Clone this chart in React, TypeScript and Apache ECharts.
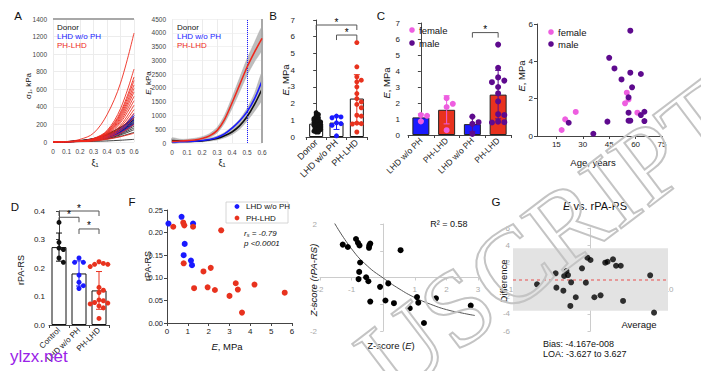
import React, { useEffect, useRef } from 'react';
import * as echarts from 'echarts';

// ---------- Panel A (stress / modulus vs strain) ----------
const strainX = [0, 0.1, 0.2, 0.3, 0.4, 0.5, 0.6];
const donorCurves = [
  [0, 2, 8, 20, 45, 90, 160],
  [0, 2, 8, 22, 50, 100, 180],
  [0, 3, 10, 25, 55, 110, 200],
  [0, 3, 10, 25, 60, 120, 220],
  [0, 3, 12, 28, 65, 130, 240],
  [0, 3, 12, 30, 70, 140, 260],
  [0, 4, 14, 32, 75, 150, 280],
  [0, 4, 14, 35, 80, 160, 300],
  [0, 3, 10, 25, 55, 115, 210],
  [0, 2, 8, 18, 40, 80, 140],
  [0, 2, 6, 15, 35, 65, 110],
  [0, 4, 15, 38, 85, 165, 250],
  [0, 5, 18, 40, 90, 170, 270],
  [0, 1, 3, 7, 12, 20, 30],
  [0, 3, 11, 27, 62, 125, 230],
  [0, 4, 13, 30, 68, 135, 250],
];
const lhdCurves = [
  [0, 3, 12, 30, 70, 150, 320],
  [0, 3, 10, 28, 65, 140, 300],
  [0, 2, 9, 25, 60, 130, 280],
  [0, 3, 11, 28, 65, 125, 250],
  [0, 2, 8, 22, 52, 110, 220],
  [0, 2, 8, 20, 48, 100, 200],
];
const phCurves = [
  [0, 5, 30, 100, 310, 670, 1240],
  [0, 3, 12, 40, 130, 380, 830],
  [0, 3, 12, 38, 120, 340, 740],
  [0, 3, 11, 35, 115, 320, 700],
  [0, 3, 10, 33, 105, 300, 650],
  [0, 3, 10, 30, 100, 280, 610],
  [0, 3, 10, 30, 95, 260, 570],
  [0, 2, 9, 28, 88, 240, 520],
  [0, 2, 9, 26, 80, 220, 470],
  [0, 2, 8, 24, 72, 190, 420],
  [0, 2, 8, 22, 65, 170, 370],
  [0, 2, 7, 20, 58, 150, 330],
  [0, 2, 6, 18, 50, 130, 280],
  [0, 2, 6, 15, 40, 100, 200],
  [0, 2, 5, 12, 30, 60, 100],
];
const modX = [0, 0.05, 0.1, 0.15, 0.2, 0.25, 0.3, 0.35, 0.4, 0.45, 0.5, 0.55, 0.6];
const modRedMean = [60, 70, 85, 110, 160, 260, 450, 850, 1450, 2100, 2750, 3300, 3800];
const modRedLow = [0, 20, 40, 60, 100, 190, 360, 720, 1250, 1850, 2450, 2950, 3400];
const modRedHigh = [150, 130, 140, 170, 230, 340, 560, 1000, 1650, 2350, 3050, 3650, 4200];
const modBlueMean = [40, 45, 55, 65, 90, 130, 200, 330, 540, 800, 1130, 1600, 2250];
const modBlackMean = [90, 70, 60, 65, 75, 110, 160, 260, 400, 620, 950, 1400, 1950];
const modGrayLow = [0, 10, 20, 30, 45, 70, 110, 190, 310, 500, 800, 1150, 1600];
const modGrayHigh = [190, 140, 110, 110, 130, 170, 250, 380, 580, 850, 1250, 1800, 2550];

// ---------- Panel B / D / F ----------
const bGroups = ['Donor', 'LHD w/o PH', 'PH-LHD'];
const donorE = [1.45, 1.35, 1.3, 1.2, 1.15, 1.1, 1.05, 1.0, 1.0, 0.95, 0.9, 0.9, 0.85, 0.8, 0.8, 0.75, 0.75, 0.7, 0.7, 0.65, 0.6, 0.6, 0.55, 0.5, 0.5, 0.45, 0.4, 0.35, 0.3, 0.3];
const lhdE = [0.07, 0.7, 1.25, 0.85, 0.8, 1.15, 1.2];
const lhdRpa = [0.22, 0.235, 0.22, 0.175, 0.15, 0.138, 0.128];
const phE = [0.3, 0.78, 0.83, 1.25, 2.6, 0.8, 1.75, 2.1, 1.3, 1.95, 2.3, 3.0, 3.3, 3.4, 3.6, 4.2, 5.65];
const phRpa = [0.213, 0.222, 0.216, 0.213, 0.205, 0.132, 0.114, 0.122, 0.077, 0.079, 0.073, 0.06, 0.088, 0.074, 0.023, 0.085, 0.067];
const dGroups = ['Control', 'LHD w/o PH', 'PH-LHD'];
const controlRpa = [0.36, 0.29, 0.27, 0.265, 0.235, 0.22];

// ---------- Panel C ----------
const cGroups = ['LHD w/o PH', 'PH-LHD', 'LHD w/o PH', 'PH-LHD'];
const femaleLhdE = [1.25, 1.2, 0.85];
const femalePhE = [2.3, 1.95, 1.75, 0.3];
const maleLhdE = [1.15, 0.8, 0.7, 0.07];
const malePhE = [5.65, 4.2, 3.6, 3.4, 3.3, 3.0, 2.6, 2.1, 1.3, 1.25, 0.83, 0.8, 0.78];

const femaleAge = [18, 20, 26, 55, 54, 56, 61];
const femaleAgeE = [0.32, 0.89, 1.29, 2.32, 1.75, 1.96, 1.25];
const maleAge = [22, 36, 44, 45, 48, 52, 57, 57, 58, 56, 56, 56, 57, 63, 63, 65, 65];
const maleAgeE = [0.71, 0.12, 0.77, 4.19, 3.62, 3.03, 5.64, 3.39, 2.61, 2.07, 1.25, 0.82, 0.82, 3.32, 1.12, 1.3, 0.8];

// ---------- Z-score panel ----------
const zE = [-1.28, -1.12, -0.86, -0.8, -0.75, -0.44, -0.41, -0.45, 0.55, -0.73, -0.76, -0.78, -0.54, -0.47, -0.1, 0.16, -0.41, 0.07, 0.34, 0.84, 1.07, 1.11, 1.67, 1.29, 2.77];
const zR = [1.23, 1.14, 1.44, 1.3, 1.2, 1.2, 1.27, 1.11, 1.02, 0.56, 0.21, -0.06, 0.01, -0.14, -0.35, -0.22, -0.9, -0.86, -0.96, -1.15, -0.73, -0.94, -0.78, -1.7, -1.05];
const zFitX = [-1.55, -1, -0.5, 0, 0.5, 1, 1.5, 2, 2.5, 2.9];
const zFitY = [2.05, 1.07, 0.43, -0.02, -0.42, -0.75, -1.0, -1.2, -1.33, -1.42];

// ---------- Bland-Altman panel ----------
const baAvg = [-0.69, -0.45, -0.44, -0.35, -0.34, -0.31, -0.29, -0.25, -0.26, -0.19, -0.11, -0.06, -0.04, 0.0, 0.05, 0.13, 0.19, 0.22, 0.29, 0.33, 0.39, 0.42, 0.77, 0.82];
const baDiff = [-0.56, 0.72, -0.95, -1.3, 0.41, 0.99, 0.52, -0.33, -3.08, -2.07, 1.3, -0.37, 2.54, 2.27, -2.07, -1.84, 1.96, 2.07, 2.35, 1.6, 1.6, -2.5, 0.49, -3.86];
const baLoa = 3.627;

const FONT = 'Liberation Sans, Arial, sans-serif';
const BLUE = '#1a1aff';
const RED = '#e8321e';
const CRED = '#ee2a1e';
const PINK = '#ee5ee0';
const PURPLE = '#5e0a8e';

const mean = (a: number[]) => a.reduce((s, v) => s + v, 0) / a.length;
const sd = (a: number[]) => {
  const m = mean(a);
  return Math.sqrt(a.reduce((s, v) => s + (v - m) * (v - m), 0) / (a.length - 1));
};

// simple beeswarm layout (x offsets only)
function swarm(values: number[], center: number, dx: number, dy: number, maxK = 6): number[][] {
  const order = values.map((_, i) => i).sort((a, b) => values[b] - values[a]);
  const placed: number[][] = [];
  const out: number[][] = new Array(values.length);
  for (const i of order) {
    const v = values[i];
    let k = 0;
    for (;;) {
      const off = k === 0 ? 0 : (k % 2 === 1 ? 1 : -1) * Math.ceil(k / 2) * dx;
      const x = center + off;
      const clash = placed.some((p) => Math.abs(p[0] - x) < dx * 0.99 && Math.abs(p[1] - v) < dy);
      if (!clash || k >= maxK) {
        const xx = k >= maxK && clash ? center + ((placed.length % 3) - 1) * dx * 0.5 : x;
        placed.push([xx, v]);
        out[i] = [xx, v];
        break;
      }
      k++;
    }
  }
  return out;
}

function errorSeries(xi: number, yi: number, groups: number[][], colors: string[], cap: number) {
  return {
    type: 'custom',
    xAxisIndex: xi,
    yAxisIndex: yi,
    silent: true,
    z: 4,
    data: groups.map((g, i) => [i, mean(g) - sd(g), mean(g) + sd(g)]),
    renderItem: (params: any, api: any) => {
      const x = api.value(0);
      const p1 = api.coord([x, Math.max(0, api.value(1))]);
      const p2 = api.coord([x, api.value(2)]);
      const st = { stroke: colors[params.dataIndex], lineWidth: 1 };
      return {
        type: 'group',
        children: [
          { type: 'line', shape: { x1: p1[0], y1: p1[1], x2: p2[0], y2: p2[1] }, style: st },
          { type: 'line', shape: { x1: p2[0] - cap, y1: p2[1], x2: p2[0] + cap, y2: p2[1] }, style: st },
          { type: 'line', shape: { x1: p1[0] - cap, y1: p1[1], x2: p1[0] + cap, y2: p1[1] }, style: st },
        ],
      };
    },
  };
}

function bracketSeries(xi: number, yi: number, data: number[][]) {
  return {
    type: 'custom',
    xAxisIndex: xi,
    yAxisIndex: yi,
    silent: true,
    z: 4,
    data,
    renderItem: (params: any, api: any) => {
      const a = api.coord([api.value(0), api.value(2)]);
      const b = api.coord([api.value(1), api.value(2)]);
      const d = 5;
      return {
        type: 'group',
        children: [
          {
            type: 'polyline',
            shape: { points: [[a[0], a[1] + d], [a[0], a[1]], [b[0], b[1]], [b[0], b[1] + d]] },
            style: { stroke: '#555', lineWidth: 1, fill: 'none' },
          },
          {
            type: 'text',
            x: (a[0] + b[0]) / 2,
            y: a[1] + 2,
            style: { text: '*', fontSize: 10, fontFamily: FONT, fill: '#000', align: 'center', verticalAlign: 'bottom' },
          },
        ],
      };
    },
  };
}

// shaded band between two curves (custom polygon in data space)
function bandSeries(xi: number, yi: number, xs: number[], lo: number[], hi: number[], color: string) {
  return {
    type: 'custom',
    xAxisIndex: xi,
    yAxisIndex: yi,
    silent: true,
    z: 1,
    data: [[xs[0], lo[0]]],
    renderItem: (params: any, api: any) => {
      const top = xs.map((x, i) => api.coord([x, hi[i]]));
      const bot = xs.map((x, i) => api.coord([x, lo[i]])).reverse();
      return {
        type: 'polygon',
        shape: { points: top.concat(bot), smooth: 0.25 },
        style: { fill: color, stroke: '#aaa', lineWidth: 0.5 },
      };
    },
  };
}

const scat = (xi: number, yi: number, data: number[][], color: string, size: number, z = 5) => ({
  type: 'scatter',
  xAxisIndex: xi,
  yAxisIndex: yi,
  data,
  symbolSize: size,
  itemStyle: { color, opacity: 1 },
  z,
  silent: true,
});

const gpAxis = (extra: any) => ({
  axisLine: { show: true, lineStyle: { color: '#444', width: 1 } },
  axisTick: { show: true, length: 3, lineStyle: { color: '#444' } },
  axisLabel: { fontSize: 8, color: '#222', fontFamily: FONT, margin: 4 },
  splitLine: { show: false },
  ...extra,
});

const hiddenX = (grid: number, n: number) => ({ gridIndex: grid, type: 'value', min: -0.5, max: n - 0.5, show: false });

function buildOption(): any {
  const t = (text: string, x: number, y: number, o: any = {}) => ({
    type: 'text',
    x,
    y,
    rotation: o.rot || 0,
    z: 50,
    silent: true,
    style: {
      text,
      fontSize: o.size || 9,
      fontFamily: o.family || FONT,
      fill: o.color || '#111',
      align: o.align || 'center',
      verticalAlign: 'middle',
      fontStyle: o.italic ? 'italic' : 'normal',
      fontWeight: o.bold ? 'bold' : 'normal',
      rich: o.rich,
    },
  });
  const dot = (x: number, y: number, color: string, r = 2.8) => ({
    type: 'circle',
    z: 50,
    silent: true,
    shape: { cx: x, cy: y, r },
    style: { fill: color },
  });
  const italE = { i: { fontStyle: 'italic', fontSize: 9.5, fontFamily: FONT }, n: { fontSize: 9.5, fontFamily: FONT } };

  const toPairs = (c: number[]) => strainX.map((x, i) => [x, c[i]]);
  const curveLine = (c: number[], color: string, z: number, w = 0.8) => ({
    type: 'line', xAxisIndex: 0, yAxisIndex: 0, data: toPairs(c), smooth: 0.35,
    symbol: 'none', lineStyle: { color, width: w }, z, silent: true,
  });
  const modLine = (c: number[], color: string, z: number) => ({
    type: 'line', xAxisIndex: 1, yAxisIndex: 1, data: modX.map((x, i) => [x, c[i]]), smooth: 0.3,
    symbol: 'none', lineStyle: { color, width: 1.6 }, z, silent: true,
  });

  const bGroupsData = [donorE, lhdE, phE];
  const dGroupsData = [controlRpa, lhdRpa, phRpa];
  const cGroupsData = [femaleLhdE, femalePhE, maleLhdE, malePhE];

  const aAxisLabel = { fontSize: 6.5, color: '#444', fontFamily: FONT, margin: 6, formatter: (v: number) => String(v) };
  const zLabel = { fontSize: 8, color: '#aaa', fontFamily: FONT, margin: 3 };

  return {
    animation: false,
    textStyle: { fontFamily: FONT },
    grid: [
      { left: 53, top: 19, width: 81, height: 123 },
      { left: 172, top: 19, width: 90, height: 124 },
      { left: 306, top: 20, width: 61, height: 117 },
      { left: 408, top: 23, width: 103, height: 112 },
      { left: 537, top: 24, width: 125, height: 112 },
      { left: 49, top: 211, width: 60, height: 114 },
      { left: 167, top: 210, width: 125, height: 113 },
      { left: 320, top: 224, width: 158, height: 107 },
      { left: 513, top: 228, width: 155, height: 103 },
    ],
    xAxis: [
      { gridIndex: 0, type: 'value', min: 0, max: 0.6, interval: 0.1, axisLine: { show: false }, axisTick: { show: false }, axisLabel: aAxisLabel, splitLine: { show: true, lineStyle: { color: '#ececec' } } },
      { gridIndex: 1, type: 'value', min: 0, max: 0.6, interval: 0.1, axisLine: { show: false }, axisTick: { show: false }, axisLabel: aAxisLabel, splitLine: { show: true, lineStyle: { color: '#ececec' } } },
      gpAxis({ gridIndex: 2, type: 'category', data: bGroups, axisLabel: { fontSize: 9, color: '#222', rotate: 45, margin: 4, fontFamily: FONT } }),
      hiddenX(2, 3),
      gpAxis({ gridIndex: 3, type: 'category', data: cGroups, axisLabel: { fontSize: 8.5, color: '#222', rotate: 45, margin: 4, fontFamily: FONT } }),
      hiddenX(3, 4),
      gpAxis({ gridIndex: 4, type: 'value', min: 4, max: 75, axisTick: { show: true, length: 3, customValues: [15, 30, 45, 60, 75], lineStyle: { color: '#444' } }, axisLabel: { fontSize: 8, color: '#222', margin: 4, customValues: [15, 30, 45, 60, 75], fontFamily: FONT } }),
      gpAxis({ gridIndex: 5, type: 'category', data: dGroups, axisLabel: { fontSize: 8, color: '#222', rotate: 45, margin: 4, fontFamily: FONT } }),
      hiddenX(5, 3),
      gpAxis({ gridIndex: 6, type: 'value', min: 0, max: 6, interval: 1 }),
      { gridIndex: 7, type: 'value', min: -2, max: 3, interval: 1, axisLine: { onZero: true, lineStyle: { color: '#ccc' } }, axisTick: { length: 3, lineStyle: { color: '#ccc' } }, axisLabel: { ...zLabel, margin: -46, formatter: (v: number) => (v === 0 ? '' : String(v)) }, splitLine: { show: false } },
      { gridIndex: 8, type: 'value', min: -1, max: 1, interval: 0.5, axisLine: { show: true, onZero: true, lineStyle: { color: 'rgba(0,0,0,0)' } }, axisTick: { show: false }, axisLabel: { ...zLabel, margin: -46, formatter: (v: number) => (v === 0 ? '' : v.toFixed(1)) }, splitLine: { show: false } },
    ],
    yAxis: [
      { gridIndex: 0, type: 'value', min: 0, max: 1400, interval: 200, axisLine: { show: false }, axisTick: { show: false }, axisLabel: aAxisLabel, splitLine: { show: true, lineStyle: { color: '#ececec' } } },
      { gridIndex: 1, type: 'value', min: 0, max: 4500, interval: 500, axisLine: { show: false }, axisTick: { show: false }, axisLabel: aAxisLabel, splitLine: { show: true, lineStyle: { color: '#f2f2f2' } } },
      gpAxis({ gridIndex: 2, type: 'value', min: 0, max: 7, interval: 1, offset: 7 }),
      gpAxis({ gridIndex: 3, type: 'value', min: 0, max: 7, interval: 1, offset: 4 }),
      gpAxis({ gridIndex: 4, type: 'value', min: 0, max: 6, interval: 2 }),
      gpAxis({ gridIndex: 5, type: 'value', min: 0, max: 0.4, interval: 0.1, axisLabel: { fontSize: 8, color: '#222', margin: 4, fontFamily: FONT, formatter: (v: number) => v.toFixed(1) } }),
      gpAxis({ gridIndex: 6, type: 'value', min: 0, max: 0.25, interval: 0.05, axisLabel: { fontSize: 7.5, color: '#222', margin: 4, fontFamily: FONT, formatter: (v: number) => v.toFixed(2) } }),
      { gridIndex: 7, type: 'value', min: -2, max: 2, interval: 1, axisLine: { onZero: true, lineStyle: { color: '#ccc' } }, axisTick: { length: 3, lineStyle: { color: '#ccc' } }, axisLabel: { ...zLabel, formatter: (v: number) => (v === 0 ? '' : String(v)) }, splitLine: { show: false } },
      { gridIndex: 8, type: 'value', min: -6, max: 6, interval: 2, axisLine: { onZero: true, lineStyle: { color: '#ccc' } }, axisTick: { length: 3, lineStyle: { color: '#ccc' } }, axisLabel: { ...zLabel, formatter: (v: number) => (v === 0 ? '' : String(v)) }, splitLine: { show: false } },
    ],
    series: [
      // ---- A left
      ...donorCurves.map((c) => curveLine(c, '#111', 2)),
      ...lhdCurves.map((c) => curveLine(c, BLUE, 3)),
      ...phCurves.map((c) => curveLine(c, CRED, 4, 0.9)),
      {
        type: 'line', xAxisIndex: 0, yAxisIndex: 0, data: [], silent: true,
        markLine: { silent: true, symbol: 'none', label: { show: false }, lineStyle: { color: '#a8a8a8', width: 2, type: 'solid' }, data: [{ yAxis: 1400 }] },
      },
      // ---- A right
      bandSeries(1, 1, modX, modGrayLow, modGrayHigh, '#bdbdbd'),
      bandSeries(1, 1, modX, modRedLow, modRedHigh, '#bdbdbd'),
      modLine(modBlackMean, '#111', 3),
      modLine(modBlueMean, BLUE, 4),
      modLine(modRedMean, CRED, 5),
      {
        type: 'line', xAxisIndex: 1, yAxisIndex: 1, data: [], silent: true,
        markLine: { silent: true, symbol: 'none', label: { show: false }, lineStyle: { color: BLUE, width: 1, type: 'dotted' }, data: [{ xAxis: 0.5 }] },
      },
      {
        type: 'line', xAxisIndex: 1, yAxisIndex: 1, data: [], silent: true,
        markLine: { silent: true, symbol: 'none', label: { show: false }, lineStyle: { color: '#a8a8a8', width: 2, type: 'solid' }, data: [{ xAxis: 0.6 }] },
      },
      // ---- B
      {
        type: 'bar', xAxisIndex: 2, yAxisIndex: 2, data: bGroupsData.map(mean), barWidth: 14, silent: true, z: 2,
        itemStyle: { color: '#fff', borderColor: '#111', borderWidth: 1 },
      },
      errorSeries(3, 2, bGroupsData, ['#111', BLUE, RED], 3),
      scat(3, 2, swarm(donorE, 0, 0.11, 0.1, 3), '#111', 5),
      scat(3, 2, swarm(lhdE, 1, 0.22, 0.25), BLUE, 5),
      scat(3, 2, swarm(phE, 2, 0.22, 0.25), RED, 5),
      bracketSeries(3, 2, [[0, 2, 6.7], [1, 2, 6.1]]),
      // ---- C
      {
        type: 'bar', xAxisIndex: 4, yAxisIndex: 3, barWidth: 17, silent: true, z: 2,
        data: cGroupsData.map((g, i) => ({ value: mean(g), itemStyle: { color: i % 2 === 0 ? BLUE : RED, borderColor: '#222', borderWidth: 1 } })),
      },
      errorSeries(5, 3, cGroupsData, [PINK, PINK, PURPLE, PURPLE], 3),
      scat(5, 3, swarm(femaleLhdE, 0, 0.24, 0.36), PINK, 6),
      scat(5, 3, swarm(femalePhE, 1, 0.24, 0.36), PINK, 6),
      scat(5, 3, swarm(maleLhdE, 2, 0.24, 0.36), PURPLE, 6),
      scat(5, 3, swarm(malePhE, 3, 0.24, 0.36), PURPLE, 6),
      bracketSeries(5, 3, [[2, 3, 6.4]]),
      // ---- Age
      scat(6, 4, femaleAge.map((a, i) => [a, femaleAgeE[i]]), PINK, 6),
      scat(6, 4, maleAge.map((a, i) => [a, maleAgeE[i]]), PURPLE, 6),
      // ---- D
      {
        type: 'bar', xAxisIndex: 7, yAxisIndex: 5, data: dGroupsData.map(mean), barWidth: 15, silent: true, z: 2,
        itemStyle: { color: '#fff', borderColor: '#111', borderWidth: 1 },
      },
      errorSeries(8, 5, dGroupsData, ['#111', BLUE, RED], 3),
      scat(8, 5, swarm(controlRpa, 0, 0.22, 0.018), '#111', 5),
      scat(8, 5, swarm(lhdRpa, 1, 0.22, 0.018), BLUE, 5),
      scat(8, 5, swarm(phRpa, 2, 0.22, 0.018), RED, 5),
      bracketSeries(8, 5, [[0, 2, 0.4], [0, 1, 0.378], [1, 2, 0.337]]),
      // ---- F
      scat(9, 6, lhdE.map((e, i) => [e, lhdRpa[i]]), BLUE, 6),
      scat(9, 6, phE.map((e, i) => [e, phRpa[i]]), RED, 6),
      // ---- Z-score
      {
        type: 'line', xAxisIndex: 10, yAxisIndex: 7, data: zFitX.map((x, i) => [x, zFitY[i]]), smooth: 0.5, symbol: 'none',
        lineStyle: { color: '#555', width: 1 }, silent: true, z: 3,
      },
      scat(10, 7, zE.map((x, i) => [x, zR[i]]), '#000', 6),
      // ---- Bland-Altman
      {
        type: 'scatter', xAxisIndex: 11, yAxisIndex: 8, data: baAvg.map((x, i) => [x, baDiff[i]]), symbolSize: 6,
        itemStyle: { color: '#000' }, silent: true, z: 5,
        markArea: { silent: true, itemStyle: { color: '#e3e3e3' }, data: [[{ yAxis: -baLoa, xAxis: -1 }, { yAxis: baLoa, xAxis: 1 }]] },
        markLine: { silent: true, symbol: 'none', label: { show: false }, lineStyle: { color: '#e88080', type: [3, 3], width: 1.6 }, data: [{ yAxis: 0 }] },
      },
    ],
    graphic: [
      // panel letters
      t('A', 18, 16, { size: 11.5 }),
      t('B', 273, 16, { size: 11.5 }),
      t('C', 381, 16, { size: 11.5 }),
      t('D', 15, 207, { size: 11.5 }),
      t('F', 132, 202, { size: 11.5 }),
      t('G', 496, 202, { size: 11.5 }),
      // A left
      t('σ₁, kPa', 28, 86, { rot: Math.PI / 2, size: 8 }),
      t('ξ₁', 95, 163, { size: 9 }),
      t('Donor', 57, 27, { align: 'left', size: 8, color: '#111' }),
      t('LHD w/o PH', 57, 36, { align: 'left', size: 8, color: BLUE }),
      t('PH-LHD', 57, 45, { align: 'left', size: 8, color: CRED }),
      // A right
      t('{i|E}{n|, kPa}', 148, 83, { rot: Math.PI / 2, size: 8, rich: { i: { fontStyle: 'italic', fontSize: 8, fontFamily: FONT }, n: { fontSize: 8, fontFamily: FONT } } }),
      t('ξ₁', 222, 163, { size: 9 }),
      t('Donor', 177, 27, { align: 'left', size: 8, color: '#111' }),
      t('LHD w/o PH', 177, 36, { align: 'left', size: 8, color: BLUE }),
      t('PH-LHD', 177, 45, { align: 'left', size: 8, color: CRED }),
      // B, C, age
      t('{i|E}{n|, MPa}', 285, 80, { rot: Math.PI / 2, rich: italE }),
      t('{i|E}{n|, MPa}', 386, 83, { rot: Math.PI / 2, rich: italE }),
      dot(412, 30, PINK), t('female', 419, 30, { align: 'left', size: 9.5 }),
      dot(412, 43, PURPLE), t('male', 419, 43, { align: 'left', size: 9.5 }),
      t('{i|E}{n|, MPa}', 521, 76, { rot: Math.PI / 2, rich: italE }),
      t('Age, years', 593, 162, { size: 9.5 }),
      dot(551, 32, PINK), t('female', 558, 32, { align: 'left', size: 9.5 }),
      dot(551, 44, PURPLE), t('male', 558, 44, { align: 'left', size: 9.5 }),
      // D
      t('rPA-RS', 21, 270, { rot: Math.PI / 2, size: 9 }),
      // F
      t('rPA-RS', 148, 266, { rot: Math.PI / 2, size: 9 }),
      t('{i|E}{n|, MPa}', 227, 346, { rich: italE }),
      { type: 'rect', z: 49, silent: true, shape: { x: 226, y: 202, width: 62, height: 21 }, style: { fill: '#fff', stroke: '#ccc', lineWidth: 0.8 } },
      dot(237, 206.5, BLUE, 2.4), t('LHD w/o PH', 246, 206.5, { align: 'left', size: 8 }),
      dot(237, 218, RED, 2.4), t('PH-LHD', 246, 218, { align: 'left', size: 8 }),
      t('{i|r}{s|s}{i| = -0.79}', 244, 233, { align: 'left', rich: { i: { fontStyle: 'italic', fontSize: 8, fontFamily: FONT }, s: { fontStyle: 'italic', fontSize: 5.5, fontFamily: FONT, padding: [4, 0, 0, 0] } } }),
      t('p <0.0001', 244, 243, { align: 'left', size: 8, italic: true }),
      // Z-score
      t('Z-score (rPA-RS)', 313, 280, { rot: Math.PI / 2, size: 9.5, italic: true }),
      t('{n|Z-score (}{i|E}{n|)}', 391, 345, { rich: italE }),
      t('R² = 0.58', 449, 224, { size: 9 }),
      // G
      t('{i|E}{n| vs. rPA-RS}', 595, 206, { rich: { i: { fontStyle: 'italic', fontSize: 11, fontFamily: FONT }, n: { fontSize: 11, fontFamily: FONT } } }),
      t('Difference', 503, 281, { rot: Math.PI / 2, size: 9.5 }),
      t('Average', 639, 324, { size: 9.5 }),
      t('Bias: -4.167e-008', 543, 343.5, { align: 'left', size: 9 }),
      t('LOA: -3.627 to 3.627', 543, 353.5, { align: 'left', size: 9 }),
      // watermarks
      t('ylzx.net', 10, 356, { align: 'left', size: 17, color: '#9a22e8' }),
      {
        type: 'text', x: 548, y: 238, rotation: 0.65, z: 60, silent: true,
        style: { text: 'USCRIPT', fontSize: 108, fontFamily: 'Liberation Serif, serif', fill: 'rgba(0,0,0,0)', stroke: '#c4c4c4', lineWidth: 2, align: 'center', verticalAlign: 'middle' },
      },
    ],
  };
}

export default function App() {
  const ref = useRef<HTMLDivElement>(null);
  useEffect(() => {
    document.body.style.margin = '0';
    if (!ref.current) return;
    const chart = echarts.init(ref.current, null, { renderer: 'svg' });
    chart.setOption(buildOption());
    return () => chart.dispose();
  }, []);
  return <div ref={ref} style={{ width: 701, height: 371, background: '#fff' }} />;
}
